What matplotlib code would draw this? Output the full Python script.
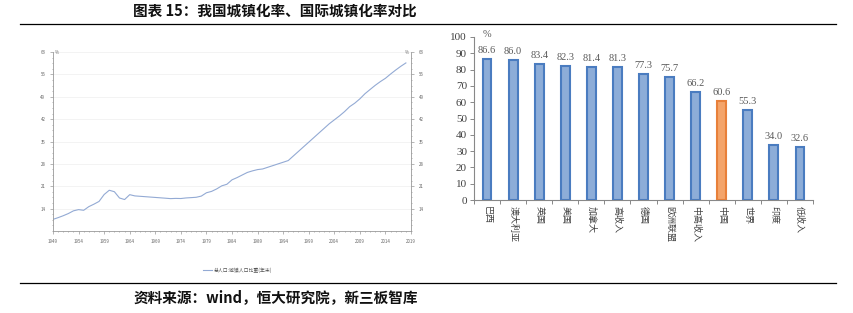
import matplotlib
matplotlib.use("Agg")
import matplotlib.pyplot as plt
import numpy as np
from matplotlib.ticker import MultipleLocator

plt.rcParams['font.family'] = ['Noto Sans CJK SC', 'DejaVu Sans']

# ---- data: China urbanization rate (%) ----
years = list(range(1949, 2019))
urban_rate = [10.64, 11.18, 11.78, 12.46, 13.31, 13.69, 13.48, 14.62, 15.39, 16.25,
              18.41, 19.75, 19.29, 17.33, 16.84, 18.37, 17.98, 17.86, 17.74, 17.62,
              17.50, 17.38, 17.26, 17.13, 17.20, 17.16, 17.34, 17.44, 17.55, 17.92,
              18.96, 19.39, 20.16, 21.13, 21.62, 23.01, 23.71, 24.52, 25.32, 25.81,
              26.21, 26.41, 26.94, 27.46, 27.99, 28.51, 29.04, 30.48, 31.91, 33.35,
              34.78, 36.22, 37.66, 39.09, 40.53, 41.76, 42.99, 44.34, 45.89, 46.99,
              48.34, 49.95, 51.27, 52.57, 53.73, 54.77, 56.10, 57.35, 58.52, 59.58]
left_yticks = [14, 21, 28, 35, 42, 49, 56, 63]
left_xticks = list(range(1949, 2020, 5))
legend_label = "总人口:城镇人口比重(年末)"

# ---- data: international comparison ----
countries = ["巴西", "澳大利亚", "英国", "美国", "加拿大", "高收入", "德国",
             "欧洲联盟", "中高收入", "中国", "世界", "印度", "低收入"]
rates = [86.6, 86.0, 83.4, 82.3, 81.4, 81.3, 77.3, 75.7, 66.2, 60.6, 55.3, 34.0, 32.6]
highlight = "中国"

fig = plt.figure(figsize=(8.54, 3.13), dpi=100)

# title and rules
fig.text(133/854, 1-11/313, "图表 15：我国城镇化率、国际城镇化率对比", fontsize=10.5,
         fontweight='bold', ha='left', va='center', color='#111111')
fig.add_artist(plt.Line2D([20/854, 836/854], [1-24/313, 1-24/313], color='black', lw=0.9))
fig.add_artist(plt.Line2D([20/854, 836/854], [1-283/313, 1-283/313], color='black', lw=0.9))
fig.text(133/854, 1-297/313, "资料来源：wind，恒大研究院，新三板智库", fontsize=10.5,
         fontweight='bold', ha='left', va='center', color='#111111')

# ---- left line chart ----
axc = '#999999'
ax1 = fig.add_axes([53/854, 1-231/313, (411-53)/854, (231-52)/313])
ax1.plot(years, urban_rate, color='#93AAD4', lw=0.8)
ax1.set_xlim(1949, 2019)
ax1.set_ylim(7, 63)
ax1.set_yticks(left_yticks)
ax1.set_xticks(left_xticks)
ax1.xaxis.set_minor_locator(MultipleLocator(1))
ax1.yaxis.set_minor_locator(MultipleLocator(1.75))
ax1.grid(axis='y', color='#EEEEEE', lw=0.5)
for s in ['left', 'right', 'bottom']:
    ax1.spines[s].set_color(axc)
    ax1.spines[s].set_linewidth(0.6)
ax1.spines['top'].set_visible(False)
ax1.tick_params(axis='both', which='both', colors=axc, labelsize=3.2, labelcolor='#666666',
                width=0.5, length=2, direction='out')
ax1.tick_params(axis='both', which='minor', length=1)
ax1.tick_params(axis='y', which='both', right=True, labelright=True)
ax1.text(0.0, 63, "  %", transform=ax1.get_yaxis_transform(), fontsize=3.2,
         color='#666666', ha='left', va='center')
ax1.text(1.0, 63, "%  ", transform=ax1.get_yaxis_transform(), fontsize=3.2,
         color='#666666', ha='right', va='center')
# legend below
fig.add_artist(plt.Line2D([203/854, 212/854], [1-270/313, 1-270/313], color='#93AAD4', lw=0.8))
fig.text(214/854, 1-270/313, legend_label, fontsize=3.5, color='#555555', ha='left', va='center')

# ---- right bar chart ----
ax2 = fig.add_axes([474/854, 1-200/313, (813-474)/854, (200-37)/313])
x = np.arange(len(countries))
faces = ['#F4A46A' if c == highlight else '#8DADD8' for c in countries]
edges = ['#E8803A' if c == highlight else '#4A7CC0' for c in countries]
ax2.bar(x, rates, width=0.34, color=faces, edgecolor=edges, linewidth=1.5)
for xi, v in zip(x, rates):
    ax2.text(xi, v + 2.5, f"{v:.1f}", ha='center', va='bottom', fontsize=7.5,
             family='Liberation Serif', color='#595959')
ax2.set_xlim(-0.5, len(countries) - 0.5)
ax2.set_ylim(0, 100)
ax2.set_yticks(range(0, 101, 10))
ax2.set_yticklabels([str(t) for t in range(0, 101, 10)], family='Liberation Serif',
                    fontsize=8, color='#404040')
ax2.set_xticks(x)
ax2.set_xticklabels(countries, rotation=-90, fontsize=6.5, color='#404040', va='top')
ax2.set_xticks(np.arange(-0.5, len(countries), 1), minor=True)
ax2.tick_params(axis='x', which='major', length=0, pad=4)
ax2.tick_params(axis='x', which='minor', length=3, color='#888888', width=0.7)
ax2.tick_params(axis='y', length=3, color='#888888', width=0.7, pad=2)
for s in ['top', 'right']:
    ax2.spines[s].set_visible(False)
for s in ['left', 'bottom']:
    ax2.spines[s].set_color('#888888')
    ax2.spines[s].set_linewidth(0.8)
ax2.text(0.025, 99, "%", transform=ax2.get_yaxis_transform(), fontsize=7.5,
         family='Liberation Serif', color='#595959', ha='left', va='bottom')

fig.savefig("out.png", dpi=100)
